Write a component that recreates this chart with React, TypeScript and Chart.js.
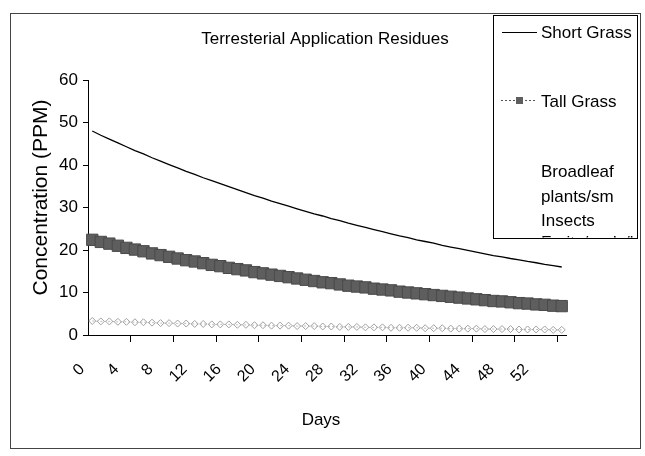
import React, { useEffect, useRef } from 'react';
import { Chart, registerables } from 'chart.js';

Chart.register(...registerables);

const chartTitle = 'Terresterial Application Residues';
const yAxisTitle = 'Concentration (PPM)';
const xAxisTitle = 'Days';

const days = [
  0, 1, 2, 3, 4, 5, 6, 7, 8, 9, 10, 11, 12, 13, 14, 15, 16, 17, 18, 19, 20, 21, 22, 23, 24, 25, 26, 27,
  28, 29, 30, 31, 32, 33, 34, 35, 36, 37, 38, 39, 40, 41, 42, 43, 44, 45, 46, 47, 48, 49, 50, 51, 52, 53, 54, 55,
];
const labelledDays = [0, 4, 8, 12, 16, 20, 24, 28, 32, 36, 40, 44, 48, 52];
const yTicks = [0, 10, 20, 30, 40, 50, 60];

const seriesNames = ['Short Grass', 'Tall Grass', 'Broadleaf plants/sm Insects', 'Fruits/pods/lg insects'];

const shortGrass = [
  48.0, 47.0, 46.1, 45.2, 44.3, 43.4, 42.6, 41.7, 40.9, 40.1, 39.3, 38.5, 37.8, 37.0, 36.3, 35.6, 34.9, 34.2,
  33.5, 32.8, 32.2, 31.5, 30.9, 30.3, 29.7, 29.1, 28.5, 28.0, 27.4, 26.9, 26.3, 25.8, 25.3, 24.8, 24.3, 23.8,
  23.3, 22.9, 22.4, 22.0, 21.6, 21.1, 20.7, 20.3, 19.9, 19.5, 19.1, 18.7, 18.4, 18.0, 17.7, 17.3, 17.0, 16.6,
  16.3, 16.0,
];
const tallGrass = [
  22.4, 21.9, 21.5, 21.0, 20.5, 20.1, 19.7, 19.2, 18.8, 18.4, 18.0, 17.6, 17.3, 16.9, 16.5, 16.2, 15.8, 15.5,
  15.2, 14.8, 14.5, 14.2, 13.9, 13.6, 13.3, 13.0, 12.7, 12.4, 12.2, 11.9, 11.6, 11.4, 11.2, 10.9, 10.7, 10.5,
  10.2, 10.0, 9.8, 9.6, 9.4, 9.2, 9.0, 8.8, 8.6, 8.4, 8.2, 8.0, 7.9, 7.7, 7.5, 7.4, 7.2, 7.1, 6.9, 6.8,
];
const broadleaf: number[] = [];
const fruits = [
  3.3, 3.2, 3.2, 3.1, 3.1, 3.0, 3.0, 2.9, 2.8, 2.8, 2.7, 2.7, 2.6, 2.6, 2.5, 2.5, 2.5, 2.4, 2.4, 2.3, 2.3, 2.2,
  2.2, 2.2, 2.1, 2.1, 2.1, 2.0, 2.0, 1.9, 1.9, 1.9, 1.8, 1.8, 1.8, 1.7, 1.7, 1.7, 1.7, 1.6, 1.6, 1.6, 1.5, 1.5,
  1.5, 1.5, 1.4, 1.4, 1.4, 1.4, 1.3, 1.3, 1.3, 1.3, 1.2, 1.2,
];

const FONT = '"Liberation Sans", Arial, sans-serif';

const decorPlugin = {
  id: 'decor',
  afterDraw(chart: any) {
    const ctx = chart.ctx as CanvasRenderingContext2D;
    const area = chart.chartArea;
    ctx.save();
    // outer border
    ctx.strokeStyle = '#444';
    ctx.lineWidth = 1;
    ctx.strokeRect(10.5, 13.5, 630, 435);

    ctx.fillStyle = '#000';
    // title
    ctx.font = `17px ${FONT}`;
    ctx.textAlign = 'center';
    ctx.textBaseline = 'alphabetic';
    ctx.fillText(chartTitle, 325, 44);
    // x title
    ctx.font = `17px ${FONT}`;
    ctx.fillText(xAxisTitle, 321, 425);
    // y title
    ctx.save();
    ctx.translate(41, (area.top + area.bottom) / 2 - 10);
    ctx.rotate(-Math.PI / 2);
    ctx.font = `21px ${FONT}`;
    ctx.textBaseline = 'middle';
    ctx.fillText(yAxisTitle, 0, 0);
    ctx.restore();

    // legend box
    const lx = 493.5, ly = 15.5, lw = 144, lh = 223;
    ctx.fillStyle = '#fff';
    ctx.fillRect(lx, ly, lw, lh);
    ctx.strokeStyle = '#000';
    ctx.strokeRect(lx, ly, lw, lh);
    ctx.save();
    ctx.beginPath();
    ctx.rect(lx + 1, ly + 1, lw - 2, lh - 2);
    ctx.clip();
    ctx.font = `17px ${FONT}`;
    ctx.textAlign = 'left';
    ctx.fillStyle = '#000';
    // short grass
    ctx.strokeStyle = '#000';
    ctx.lineWidth = 1.2;
    ctx.beginPath();
    ctx.moveTo(502, 32.5);
    ctx.lineTo(537, 32.5);
    ctx.stroke();
    ctx.fillText(seriesNames[0], 541, 38);
    // tall grass
    ctx.strokeStyle = '#555';
    ctx.lineWidth = 1;
    ctx.setLineDash([2, 2]);
    ctx.beginPath();
    ctx.moveTo(501, 100.5);
    ctx.lineTo(537, 100.5);
    ctx.stroke();
    ctx.setLineDash([]);
    ctx.fillStyle = '#5e5e5e';
    ctx.fillRect(516, 97, 7, 7);
    ctx.fillStyle = '#000';
    ctx.fillText(seriesNames[1], 541, 107);
    // broadleaf (wrapped) and the clipped last entry
    ctx.fillText('Broadleaf', 541, 177);
    ctx.fillText('plants/sm', 541, 202);
    ctx.fillText('Insects', 541, 226);
    ctx.fillText('Fruits/pods/lg', 541, 248);
    ctx.restore();
    ctx.restore();
  },
};

export default function App() {
  const ref = useRef<HTMLCanvasElement>(null);
  useEffect(() => {
    if (!ref.current) return;
    Chart.defaults.font.family = FONT;
    const chart = new Chart(ref.current, {
      type: 'line',
      data: {
        labels: days.map(String),
        datasets: [
          {
            label: seriesNames[0],
            data: shortGrass,
            borderColor: '#000',
            borderWidth: 1.3,
            pointRadius: 0,
            tension: 0,
          },
          {
            label: seriesNames[1],
            data: tallGrass,
            borderColor: '#555',
            borderWidth: 1,
            borderDash: [2, 2],
            pointStyle: 'rect',
            pointRadius: 8,
            pointBackgroundColor: '#5e5e5e',
            pointBorderColor: '#4a4a4a',
            pointBorderWidth: 1,
          },
          {
            label: seriesNames[2],
            data: broadleaf,
            borderColor: '#ddd',
            pointRadius: 0,
          },
          {
            label: seriesNames[3],
            data: fruits,
            borderColor: '#bbb',
            borderWidth: 1,
            borderDash: [2, 2],
            pointStyle: 'rectRot',
            pointRadius: 3.5,
            pointBackgroundColor: 'rgba(0,0,0,0)',
            pointBorderColor: '#a0a0a0',
            pointBorderWidth: 1,
          },
        ],
      },
      options: {
        responsive: false,
        animation: false,
        layout: { padding: { left: 10, top: 80, right: 79, bottom: 21 } },
        plugins: { legend: { display: false }, tooltip: { enabled: false }, title: { display: false } },
        scales: {
          x: {
            type: 'category',
            offset: true,
            afterFit: (s: any) => {
              s.height = 100;
            },
            border: { display: true, color: '#000', width: 1 },
            grid: {
              offset: true,
              drawOnChartArea: false,
              drawTicks: true,
              tickLength: 7,
              color: (c: any) => (c.index > 0 && c.index % 5 === 0 ? '#000' : 'rgba(0,0,0,0)'),
            },
            ticks: {
              autoSkip: false,
              maxRotation: 45,
              minRotation: 45,
              padding: 18,
              labelOffset: -10,
              color: '#000',
              font: { size: 16 },
              callback: (_v: any, i: number) => (labelledDays.includes(days[i]) ? String(days[i]) : ''),
            },
          },
          y: {
            min: yTicks[0],
            max: yTicks[yTicks.length - 1],
            afterFit: (s: any) => {
              s.width = 78;
            },
            border: { display: true, color: '#000', width: 1 },
            grid: { drawOnChartArea: false, drawTicks: true, tickLength: 5, color: '#000' },
            ticks: { stepSize: 10, padding: 5, color: '#000', font: { size: 17 } },
          },
        },
      },
      plugins: [decorPlugin],
    });
    return () => chart.destroy();
  }, []);
  return (
    <div style={{ position: 'fixed', left: 0, top: 0, width: 645, height: 456, background: '#fff' }}>
      <canvas ref={ref} width={645} height={456} />
    </div>
  );
}
